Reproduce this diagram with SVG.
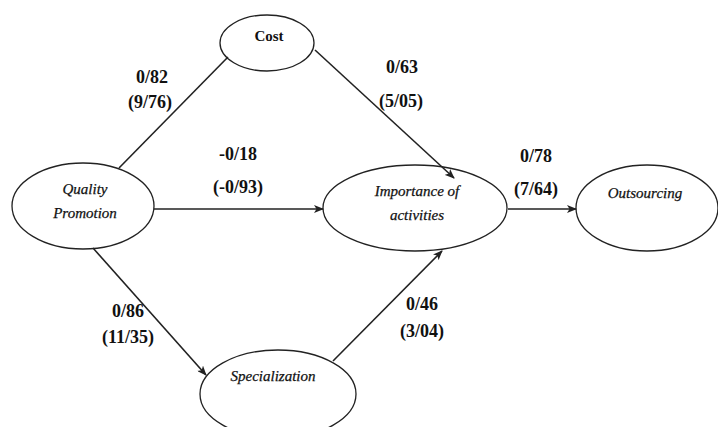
<svg xmlns="http://www.w3.org/2000/svg" width="718" height="427" viewBox="0 0 718 427">
<style>
.node{fill:#fff;stroke:#222;stroke-width:1.3}
.nl{font-family:"Liberation Serif","Times New Roman",serif;font-size:15px;font-style:italic;text-anchor:middle;fill:#111;stroke:#111;stroke-width:0.25}
.nb{font-family:"Liberation Serif","Times New Roman",serif;font-size:15px;font-weight:bold;text-anchor:middle;fill:#111}
.edge{stroke:#222;stroke-width:1.6;fill:none}
.lab{font-family:"Liberation Serif","Times New Roman",serif;font-size:18px;font-weight:bold;text-anchor:middle;fill:#111}
</style>
<defs>
<marker id="arr" markerWidth="10" markerHeight="8" refX="9" refY="4" orient="auto" markerUnits="userSpaceOnUse">
<path d="M0,0 L10,4 L0,8 L2.5,4 Z" fill="#222"/>
</marker>
</defs>
<rect width="718" height="427" fill="#fff"/>
<g id="cost">
<ellipse class="node" cx="267" cy="43" rx="47" ry="28"/>
<text class="nb" x="269" y="41">Cost</text>
</g>
<g id="quality">
<ellipse class="node" cx="83" cy="206" rx="71" ry="43"/>
<text class="nl" x="85" y="194">Quality</text>
<text class="nl" x="85" y="218">Promotion</text>
</g>
<g id="importance">
<ellipse class="node" cx="415" cy="208" rx="92" ry="43"/>
<text class="nl" x="417" y="196">Importance of</text>
<text class="nl" x="417" y="220">activities</text>
</g>
<g id="outsourcing">
<ellipse class="node" cx="647" cy="208" rx="71" ry="43"/>
<text class="nl" x="645" y="198">Outsourcing</text>
</g>
<g id="specialization">
<ellipse class="node" cx="278" cy="394" rx="78" ry="44"/>
<text class="nl" x="273" y="381">Specialization</text>
</g>
<g id="connectors">
<line class="edge" x1="119" y1="168" x2="228" y2="57"/>
<line class="edge" x1="315" y1="50" x2="454" y2="178" marker-end="url(#arr)"/>
<line class="edge" x1="154" y1="209" x2="323" y2="209" marker-end="url(#arr)"/>
<line class="edge" x1="508" y1="209" x2="576" y2="209" marker-end="url(#arr)"/>
<line class="edge" x1="93" y1="248" x2="206" y2="375" marker-end="url(#arr)"/>
<line class="edge" x1="333" y1="361" x2="442" y2="251" marker-end="url(#arr)"/>
</g>
<g id="labels">
<text class="lab" x="152" y="83">0/82</text>
<text class="lab" x="150" y="108">(9/76)</text>
<text class="lab" x="238" y="160">-0/18</text>
<text class="lab" x="238" y="193">(-0/93)</text>
<text class="lab" x="402" y="73">0/63</text>
<text class="lab" x="401" y="107">(5/05)</text>
<text class="lab" x="536" y="162">0/78</text>
<text class="lab" x="536" y="195">(7/64)</text>
<text class="lab" x="128" y="317">0/86</text>
<text class="lab" x="128" y="343">(11/35)</text>
<text class="lab" x="422" y="310">0/46</text>
<text class="lab" x="422" y="337">(3/04)</text>
</g>
</svg>
